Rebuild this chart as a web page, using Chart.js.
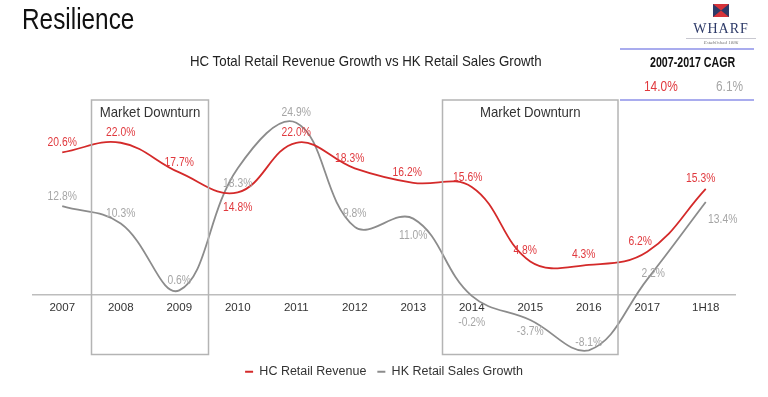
<!DOCTYPE html>
<html>
<head>
<meta charset="utf-8">
<script src="https://cdn.jsdelivr.net/npm/chart.js@4.4.0/dist/chart.umd.min.js"></script>
<style>
  body { margin: 0; background: #fff; font-family: "Liberation Sans", Arial, sans-serif; }
  #wrap { position: relative; width: 768px; height: 397px; overflow: hidden; }
  #chart { position: absolute; left: 0; top: 0; }
  .abs { position: absolute; white-space: nowrap; }
  .narrow { transform-origin: 0 0; }
  #title { left: 22px; top: 3px; font-size: 29px; color: #111; transform: scaleX(0.84); }
  #sub { left: 190px; top: 52px; font-size: 15px; color: #222; transform: scaleX(0.885); }
  #cagr { left: 620px; top: 48px; width: 134px; height: 49px; border-top: 2px solid #a9acee; border-bottom: 2px solid #a9acee; }
  #cagr .h { position: absolute; left: 30px; top: 4px; font-size: 14px; font-weight: bold; color: #111; transform: scaleX(0.76); }
  #cagr .a { position: absolute; left: 24px; top: 28px; font-size: 14px; color: #e0393e; transform: scaleX(0.85); }
  #cagr .b { position: absolute; left: 96px; top: 28px; font-size: 14px; color: #a6a6a6; transform: scaleX(0.85); }
  #logo { left: 686px; top: 3px; width: 70px; text-align: center; }
  #logo .w { font-family: "Liberation Serif", serif; font-size: 14px; color: #2d3a68; letter-spacing: 1px; line-height: 14px; margin-top: 1px; }
  #logo .rule { border-top: 1px solid #c8c8d0; margin: 2px 0 0 0; }
  #logo .e { font-family: "Liberation Serif", serif; font-style: italic; font-size: 5px; color: #777; line-height: 7px; }
</style>
</head>
<body>
<div id="wrap">
  <canvas id="chart" width="768" height="397"></canvas>
  <div class="abs narrow" id="title">Resilience</div>
  <div class="abs narrow" id="sub">HC Total Retail Revenue Growth vs HK Retail Sales Growth</div>
  <div class="abs" id="logo">
    <svg width="16" height="13" viewBox="0 0 16 13"><rect width="16" height="13" fill="#2d3a68"/><polygon points="0,0 16,0 8,6.5" fill="#d6333a"/><polygon points="0,13 16,13 8,6.5" fill="#d6333a"/></svg>
    <div class="w">WHARF</div>
    <div class="rule"></div>
    <div class="e">Established 1886</div>
  </div>
  <div class="abs" id="cagr">
    <div class="h narrow">2007-2017 CAGR</div>
    <div class="a narrow">14.0%</div>
    <div class="b narrow">6.1%</div>
  </div>
</div>
<script>
// chart data
var categories = ["2007", "2008", "2009", "2010", "2011", "2012", "2013", "2014", "2015", "2016", "2017", "1H18"];
var hcRetailRevenue = [20.6, 22.0, 17.7, 14.8, 22.0, 18.3, 16.2, 15.6, 4.8, 4.3, 6.2, 15.3];
var hkRetailSales = [12.8, 10.3, 0.6, 18.3, 24.9, 9.8, 11.0, -0.2, -3.7, -8.1, 2.2, 13.4];
var downturns = [["2008", "2009"], ["2014", "2016"]];

// label nudges (px) so the value labels sit like the original
var redNudge = {
  dx: [0, 0, 0, 0, 0, -5, -6, -4, -5, -5, -7, -5],
  dy: [-10, -10, -10, 15, -10, -10, -10, -9, -11, -10, -10, -10]
};
var greyNudge = {
  dx: [0, 0, 0, 0, 0, 0, 0, 0, 0, 0, 6, 17],
  dy: [-10, -10, -10, 15, -10, -13, 17, 27, 12, -8, -6, 18]
};

var RED = '#d42a2a';
var GREY = '#8c8c8c';
var FONT = '"Liberation Sans", Arial, sans-serif';

// draw condensed text (the original uses a narrow face)
function narrowText(ctx, text, x, y, sx) {
  ctx.save();
  ctx.translate(x, y);
  ctx.scale(sx, 1);
  ctx.fillText(text, 0, 0);
  ctx.restore();
}

var valueLabels = {
  id: 'valueLabels',
  afterDatasetsDraw: function(chart) {
    var ctx = chart.ctx;
    ctx.save();
    ctx.font = '12px ' + FONT;
    ctx.textAlign = 'center';
    ctx.textBaseline = 'middle';
    chart.data.datasets.forEach(function(ds, di) {
      var meta = chart.getDatasetMeta(di);
      var nudge = di === 0 ? redNudge : greyNudge;
      ctx.fillStyle = di === 0 ? '#e0393e' : '#a6a6a6';
      meta.data.forEach(function(pt, i) {
        narrowText(ctx, ds.data[i].toFixed(1) + '%', pt.x + nudge.dx[i], pt.y + nudge.dy[i], 0.86);
      });
    });
    ctx.restore();
  }
};

var downturnBoxes = {
  id: 'downturnBoxes',
  afterDatasetsDraw: function(chart) {
    var ctx = chart.ctx;
    var x = chart.scales.x;
    var area = chart.chartArea;
    ctx.save();
    downturns.forEach(function(d) {
      var a = categories.indexOf(d[0]), b = categories.indexOf(d[1]);
      var left = x.getPixelForValue(a - 0.5);
      var right = x.getPixelForValue(b + 0.5);
      ctx.strokeStyle = '#b4b4b4';
      ctx.lineWidth = 1.5;
      ctx.strokeRect(left, area.top, right - left, area.bottom - area.top);
      ctx.fillStyle = '#333';
      ctx.font = '15px ' + FONT;
      ctx.textAlign = 'center';
      ctx.textBaseline = 'middle';
      narrowText(ctx, 'Market Downturn', (left + right) / 2, area.top + 13, 0.88);
    });
    ctx.restore();
  }
};

new Chart(document.getElementById('chart'), {
  type: 'line',
  data: {
    labels: categories,
    datasets: [{
      label: 'HC Retail Revenue',
      data: hcRetailRevenue,
      borderColor: RED,
      backgroundColor: RED,
      borderWidth: 1.8,
      pointRadius: 0,
      pointStyle: 'line',
      tension: 0.4
    }, {
      label: 'HK Retail Sales Growth',
      data: hkRetailSales,
      borderColor: GREY,
      backgroundColor: GREY,
      borderWidth: 1.8,
      pointRadius: 0,
      pointStyle: 'line',
      tension: 0.4
    }]
  },
  options: {
    responsive: false,
    animation: false,
    layout: { padding: { left: 33, right: 33, top: 100, bottom: 9 } },
    plugins: {
      legend: {
        position: 'bottom',
        labels: {
          usePointStyle: true,
          pointStyleWidth: 8,
          padding: 11,
          color: '#333',
          font: { family: FONT, size: 12.5 }
        }
      },
      tooltip: { enabled: false }
    },
    scales: {
      x: {
        position: { y: 0 },
        offset: true,
        grid: { display: false },
        border: { color: '#bdbdbd', width: 1.5 },
        ticks: { color: '#333', padding: -2, font: { family: FONT, size: 11.5 } }
      },
      y: {
        display: false,
        min: -8.7,
        max: 28.2
      }
    }
  },
  plugins: [downturnBoxes, valueLabels]
});
</script>
</body>
</html>
